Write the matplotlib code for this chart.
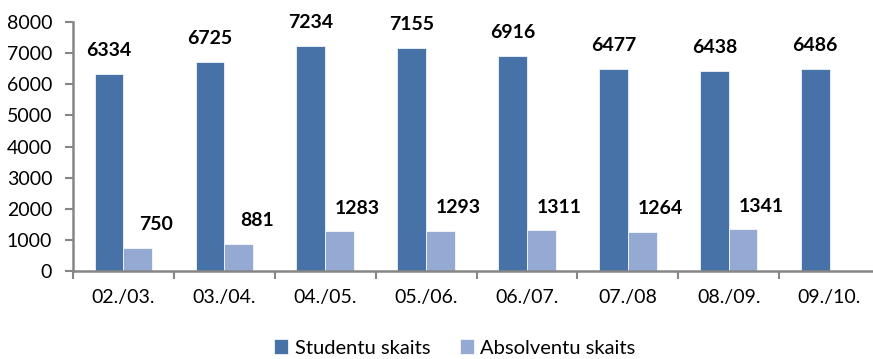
import numpy as np
import matplotlib.pyplot as plt
from matplotlib.ticker import FixedLocator, NullFormatter

# dati
gadi = ['02./03.', '03./04.', '04./05.', '05./06.', '06./07.', '07./08', '08./09.', '09./10.']
studenti = [6334, 6725, 7234, 7155, 6916, 6477, 6438, 6486]
absolventi = [750, 881, 1283, 1293, 1311, 1264, 1341, np.nan]

c_stud = '#4672A8'
c_abs = '#94AAD2'
ass_krasa = '#868686'

plt.rcParams['font.family'] = ['Lato', 'DejaVu Sans']

fig = plt.figure(figsize=(8.73, 3.59), dpi=100)
ax = fig.add_axes([73 / 873, 88 / 359, 807 / 873, 249 / 359])

x = np.arange(len(gadi))
w = 0.285
b1 = ax.bar(x - w / 2, studenti, w, color=c_stud, edgecolor='white', linewidth=0.5,
            label='Studentu skaits')
b2 = ax.bar(x + w / 2, absolventi, w, color=c_abs, edgecolor='white', linewidth=0.5,
            label='Absolventu skaits')

# vērtību etiķetes
for xi, v in zip(x, studenti):
    ax.annotate(f'{v}', (xi - w / 2, v), xytext=(0, 17), textcoords='offset points',
                ha='center', va='center', fontsize=14, fontweight='bold')
for xi, v in zip(x, absolventi):
    if np.isnan(v):
        continue
    ax.annotate(f'{int(v)}', (xi + w / 2, v), xytext=(13, 16.5), textcoords='offset points',
                ha='center', va='center', fontsize=14, fontweight='bold')

ax.set_ylim(0, 8000)
ax.set_yticks(range(0, 8001, 1000))
ax.set_xlim(-0.5, len(gadi) - 0.5)

# ticks uz kategoriju robežām, nosaukumi centrā
ax.xaxis.set_major_locator(FixedLocator(np.arange(-0.5, len(gadi), 1.0)))
ax.xaxis.set_major_formatter(NullFormatter())
ax.xaxis.set_minor_locator(FixedLocator(x))
ax.set_xticklabels(gadi, minor=True)
ax.tick_params(axis='x', which='minor', length=0, pad=13, labelsize=14)
ax.tick_params(axis='x', which='major', length=6, width=1.5, color=ass_krasa)
ax.tick_params(axis='y', length=6, width=1.5, color=ass_krasa, labelsize=14, pad=9)

for s in ['top', 'right']:
    ax.spines[s].set_visible(False)
for s in ['left', 'bottom']:
    ax.spines[s].set_color(ass_krasa)
    ax.spines[s].set_linewidth(1.8)

fig.legend(handles=[b1, b2], loc='center', bbox_to_anchor=(455 / 873, 11 / 359), ncol=2,
           frameon=False, fontsize=14.5, handlelength=0.7, handleheight=0.7,
           handletextpad=0.3, columnspacing=1.5)

fig.savefig('out.png', dpi=100)
